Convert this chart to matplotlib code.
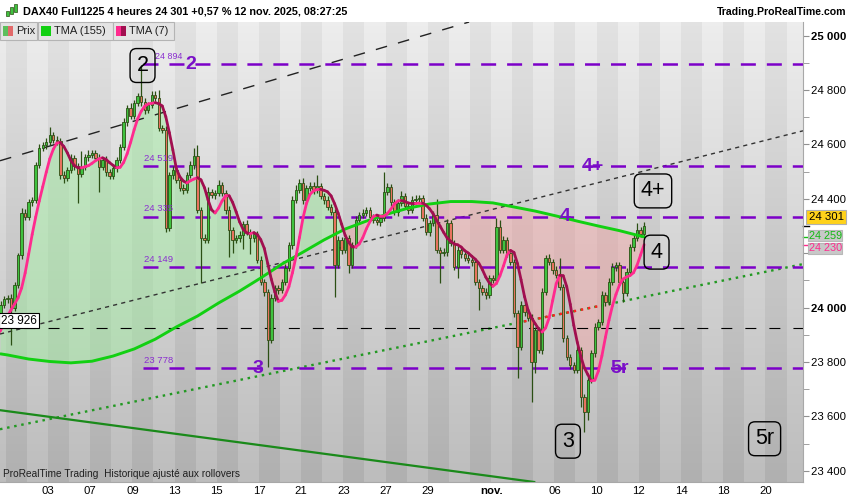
import numpy as np
import pandas as pd
import matplotlib
matplotlib.use("Agg")
import matplotlib.pyplot as plt
from matplotlib.collections import LineCollection
from matplotlib.patches import Rectangle

plt.rcParams['font.family'] = ['Liberation Sans', 'DejaVu Sans']
plt.rcParams['lines.scale_dashes'] = False

# 4h candles, 6 per trading day, x axis in trading days (day 0 = Fri 3 oct. 2025)
bars_per_day = 6
first_day = -2      # 1 oct.
n_pre = 7           # candles before the window, only feed the TMA(7)

pre_closes = [23870, 23905, 23890, 23930, 23975, 24010, 24030]
pre_wick_up = [12, 10, 14, 12, 10, 14, 12]
pre_wick_dn = [10, 12, 14, 10, 12, 14, 10]
first_open = 23860

closes = [
    24035, 23999, 24083, 24193, 24348, 24333, 24388, 24396, 24525, 24587, 24598, 24609, 24635, 24616, 24613, 24488, 24477, 24506, 24550, 24521,
    24491, 24517, 24554, 24561, 24569, 24550, 24517, 24543, 24499, 24484, 24513, 24543, 24591, 24683, 24734, 24705, 24752, 24778, 24756, 24727,
    24745, 24782, 24771, 24660, 24653, 24293, 24488, 24506, 24469, 24440, 24432, 24488, 24525, 24558, 24359, 24256, 24250, 24425, 24414, 24421,
    24451, 24421, 24359, 24285, 24249, 24256, 24267, 24307, 24278, 24256, 24271, 24175, 24094, 24057, 23881, 24035, 24072, 24065, 24094, 24146,
    24230, 24396, 24432, 24458, 24396, 24440, 24447, 24432, 24447, 24410, 24396, 24370, 24352, 24157, 24249, 24212, 24256, 24157, 24230, 24322,
    24341, 24348, 24359, 24333, 24322, 24315, 24330, 24425, 24443, 24388, 24352, 24385, 24410, 24374, 24359, 24396, 24399, 24403, 24330, 24278,
    24311, 24341, 24212, 24201, 24204, 24311, 24238, 24149, 24212, 24197, 24182, 24175, 24168, 24094, 24072, 24057, 24046, 24109, 24102, 24296,
    24212, 24249, 24201, 24168, 23980, 23855, 24010, 23984, 23962, 23800, 23918, 23844, 24057, 24182, 24168, 24138, 24120, 24076, 23888, 23818,
    23789, 23770, 23844, 23671, 23616, 23734, 23833, 23929, 23947, 24046, 24021, 24094, 24149, 24157, 24094, 24054, 24131, 24223, 24256, 24285,
    24271, 24301,
]
wick_up = [
    10, 14, 12, 8, 18, 15, 10, 12, 9, 14, 12, 16, 29, 10, 14, 12, 15, 10, 14, 12,
    10, 60, 12, 18, 10, 12, 15, 10, 14, 12, 9, 12, 10, 14, 12, 18, 10, 12, 114, 15,
    12, 14, 16, 29, 12, 15, 10, 14, 12, 10, 16, 12, 14, 30, 40, 10, 14, 20, 12, 10,
    18, 12, 10, 14, 12, 10, 16, 12, 14, 10, 12, 10, 14, 12, 10, 14, 12, 10, 12, 14,
    12, 16, 18, 14, 20, 12, 16, 14, 40, 12, 10, 14, 12, 10, 16, 12, 14, 10, 12, 16,
    12, 14, 10, 12, 10, 14, 12, 74, 14, 12, 10, 14, 20, 12, 10, 14, 16, 12, 10, 14,
    12, 16, 58, 10, 14, 16, 12, 10, 14, 12, 10, 14, 12, 10, 12, 10, 14, 12, 10, 34,
    26, 14, 12, 16, 10, 12, 14, 12, 10, 14, 12, 10, 16, 11, 14, 12, 16, 62, 10, 12,
    10, 12, 14, 10, 12, 14, 12, 16, 10, 14, 12, 16, 14, 10, 12, 10, 14, 12, 16, 26,
    12, 14,
]
wick_dn = [
    14, 137, 10, 12, 14, 12, 10, 14, 12, 10, 12, 14, 10, 12, 14, 15, 20, 12, 10, 14,
    106, 12, 10, 14, 12, 10, 92, 12, 14, 10, 12, 14, 10, 12, 14, 12, 10, 12, 14, 16,
    12, 10, 14, 12, 10, 15, 12, 14, 10, 12, 14, 10, 12, 14, 12, 166, 14, 12, 10, 14,
    12, 10, 14, 100, 48, 12, 14, 50, 12, 60, 14, 12, 10, 14, 99, 12, 10, 14, 12, 10,
    12, 14, 10, 12, 14, 10, 12, 14, 12, 10, 14, 12, 10, 118, 12, 14, 10, 30, 12, 10,
    14, 12, 10, 14, 12, 10, 14, 12, 10, 16, 12, 14, 10, 12, 14, 10, 12, 14, 12, 10,
    14, 12, 10, 111, 12, 14, 10, 12, 40, 14, 12, 10, 14, 12, 80, 10, 14, 12, 10, 14,
    12, 10, 14, 12, 16, 114, 12, 14, 10, 147, 40, 12, 14, 10, 12, 14, 10, 12, 14, 12,
    14, 12, 10, 37, 74, 30, 12, 14, 10, 12, 14, 10, 12, 14, 12, 33, 10, 12, 14, 10,
    12, 10,
]

# TMA(155), one value per day (candle slot index)
tma155_slot = [-2, 0, 6, 12, 18, 24, 30, 36, 42, 48, 54, 60, 66, 72, 78, 84, 90, 96,
               102, 108, 114, 120, 126, 132, 138, 144, 150, 156, 162, 168, 174, 180, 181]
tma155_val = [23830, 23826, 23811, 23802, 23797, 23803, 23822, 23848, 23884, 23929, 23969,
              24017, 24061, 24109, 24160, 24204, 24249, 24289, 24318, 24344, 24366, 24381,
              24390, 24390, 24385, 24370, 24355, 24337, 24318, 24300, 24283, 24263, 24260]

levels = [24894, 24519, 24335, 24149, 23778]
level_labels = ["24 894", "24 519", "24 335", "24 149", "23 778"]
level_label_x = [5.05, 4.55, 4.55, 4.55, 4.55]
level_label_size = [6.4, 6.8, 6.8, 6.8, 6.8]
level_start = 4.5

wave_text = ["2", "4+", "4", "3", "5r"]
wave_x = [6.75, 25.83, 24.5, 9.95, 27.1]
wave_y = [24894, 24519, 24335, 23778, 23778]

box_text = ["2", "4+", "4", "3", "5r"]
box_x = [4.48, 28.67, 28.84, 24.64, 33.96]
box_y = [24890, 24429, 24204, 23509, 23518]

support = 23926

upper_dash = [(-2.275, 24540), (20.0, 25051)]
mid_dot = [(-2.275, 23903), (35.78, 24650)]
green_dot = [(-2.275, 23553), (35.78, 24160)]
green_dot_red = [22.23, 26.07]
green_solid = [(-2.275, 23623), (22.37, 23366)]

xtick_days = [0, 2, 4, 6, 8, 10, 12, 14, 16, 18, 21, 24, 26, 28, 30, 32, 34]
xtick_labels = ["03", "07", "09", "13", "15", "17", "21", "23", "27", "29", "nov.",
                "06", "10", "12", "14", "18", "20"]
yticks = [23400, 23600, 23800, 24000, 24200, 24400, 24600, 24800, 25000]
hidden_ytick = 24200   # covered by the last-value boxes

xlo, xhi = -2.275, 35.78
ylo, yhi = 23359, 25050

# ---------------------------------------------------------------
c = np.array(pre_closes + closes, dtype=float)
o = np.concatenate([[first_open], c[:-1]])
wu = np.array(pre_wick_up + wick_up, dtype=float)
wd = np.array(pre_wick_dn + wick_dn, dtype=float)
hi = np.maximum(o, c) + wu
lo = np.minimum(o, c) - wd
slots = np.arange(len(c)) - n_pre
x = first_day + (slots + 0.5) / bars_per_day

s = pd.Series(c)
tma7 = s.rolling(4, min_periods=1).mean().rolling(4, min_periods=1).mean().values
x155 = first_day + (np.array(tma155_slot) + 0.5) / bars_per_day
v155 = np.array(tma155_val, dtype=float)

fig = plt.figure(figsize=(8.5, 5), dpi=100)
fig.patch.set_facecolor('white')
ax = fig.add_axes([0, 18 / 500, 803 / 850, 460 / 500])

# striped grey background, one stripe per trading day
nrow = 120
t = np.linspace(0, 1, nrow)[:, None]
day_cols = np.arange(-3, 37)
dark = (day_cols % 2 == 0)[None, :]
img = np.where(dark, 226 - 50 * t, 237 - 48 * t) / 255
img = np.repeat(img[:, :, None], 3, axis=2)
ax.imshow(img, extent=(-3, 37, ylo, yhi), aspect='auto', interpolation='nearest',
          origin='upper', zorder=0)

# fill between TMA(7) and TMA(155)
m = slots >= tma155_slot[0]
xf = x[m]
pf = tma7[m]
gf = np.interp(xf, x155, v155)
ax.fill_between(xf, pf, gf, where=pf >= gf, interpolate=True,
                color='#a2eca2', alpha=0.5, lw=0, zorder=1)
ax.fill_between(xf, pf, gf, where=pf < gf, interpolate=True,
                color='#f4a3a3', alpha=0.45, lw=0, zorder=1)

# trend lines
ax.axline(upper_dash[0], upper_dash[1], color='#222222', lw=1.0, dashes=(8.4, 8.2), zorder=2)
ax.axline(mid_dot[0], mid_dot[1], color='#333333', lw=1.0, dashes=(3, 3), zorder=2)
ax.axline(green_dot[0], green_dot[1], color='#229922', lw=1.7, dashes=(1.8, 3.4), zorder=2)
gx = np.array(green_dot_red)
gy = np.interp(gx, [green_dot[0][0], green_dot[1][0]], [green_dot[0][1], green_dot[1][1]])
ax.plot(gx, gy, color='#ff2020', lw=1.7, dashes=(1.8, 3.4), zorder=2)
ax.axline(green_solid[0], green_solid[1], color='#1a8a1a', lw=1.6, zorder=2)
ax.axhline(support, color='black', lw=0.8, dashes=(7.9, 9.4), zorder=2)

# horizontal levels
for lv, lab, lx, ls in zip(levels, level_labels, level_label_x, level_label_size):
    ax.plot([level_start, xhi], [lv, lv], color='#7c00c8', lw=1.8, dashes=(10.8, 7.9), zorder=2)
    ax.text(lx, lv + 12, lab, color='#8a2ed0', fontsize=ls,
            va='bottom', ha='left', zorder=6)

# candles
up = c >= o
edge = '#2b4f14'
ax.vlines(x, lo, hi, color=edge, lw=0.9, zorder=3)
ax.bar(x[up], (c - o)[up], bottom=o[up], width=0.115, color='#3fc23f',
       edgecolor=edge, linewidth=0.6, zorder=4)
ax.bar(x[~up], (o - c)[~up], bottom=c[~up], width=0.115, color='#e8735f',
       edgecolor=edge, linewidth=0.6, zorder=4)

# TMA(155)
ax.plot(x155, v155, color='#12d012', lw=2.1, zorder=5, solid_capstyle='round')

# TMA(7): pink when rising, dark when falling
pts = np.column_stack([x, tma7])
segs = np.stack([pts[:-1], pts[1:]], axis=1)
cols = np.where(np.diff(tma7) >= 0, '#ff2a8e', '#a10f50')
ax.add_collection(LineCollection(segs, colors=cols, linewidths=2.0, zorder=5,
                                 capstyle='round'))

# wave labels
for txt, wx, wy in zip(wave_text, wave_x, wave_y):
    ax.text(wx, wy, txt, color='#7a10c8', fontsize=14, fontweight='bold',
            ha='center', va='center', zorder=6)
for txt, bx, by in zip(box_text, box_x, box_y):
    ax.text(bx, by, txt, color='black', fontsize=15.5, ha='center', va='center', zorder=6,
            bbox=dict(boxstyle='round,pad=0.3,rounding_size=0.3', fc='none',
                      ec='black', lw=1.0))

ax.text(xlo + 0.06, support + 4, "23 926", fontsize=8.5, color='black', va='bottom',
        ha='left', zorder=7,
        bbox=dict(boxstyle='square,pad=0.15', fc='white', ec='black', lw=0.8))

ax.set_xlim(xlo, xhi)
ax.set_ylim(ylo, yhi)

# axes styling
for sp in ['top', 'left']:
    ax.spines[sp].set_visible(False)
ax.spines['right'].set_color('#a8a8a8')
ax.spines['bottom'].set_color('#a8a8a8')
ax.yaxis.tick_right()
ax.set_yticks(yticks, ["" if v == hidden_ytick else f"{v:,}".replace(",", " ")
                       for v in yticks])
ax.set_yticks(np.arange(23500, 25001, 200), minor=True)
ax.tick_params(axis='y', which='both', direction='out', length=4, color='#909090',
               labelsize=8.2, pad=2)
for lbl in ax.get_yticklabels():
    if lbl.get_text() in ("25 000", "24 000"):
        lbl.set_fontweight('bold')
ax.set_xticks(xtick_days, xtick_labels)
ax.tick_params(axis='x', length=0, labelsize=8.2, pad=3)
for lbl in ax.get_xticklabels():
    if lbl.get_text() == "nov.":
        lbl.set_fontweight('bold')

# last values on the price axis
tr = ax.get_yaxis_transform()
last_vals = [24301, 24259, 24230]
ax.plot([1.0, 1.007], [last_vals[0]] * 2, transform=tr, clip_on=False, color='black', lw=1)
ax.plot([1.0, 1.007], [last_vals[1]] * 2, transform=tr, clip_on=False, color='#10c010', lw=1)
ax.plot([1.0, 1.007], [last_vals[2]] * 2, transform=tr, clip_on=False, color='#ff2a8e', lw=1)
ax.text(1.007, 24333, "24 301", transform=tr, fontsize=8.2, color='black', va='center',
        ha='left', clip_on=False,
        bbox=dict(boxstyle='square,pad=0.2', fc='#ffd21a', ec='#b0b0b0', lw=0.8))
ax.text(1.007, 24264, "24 259", transform=tr, fontsize=7.8, color='#12b812', va='center',
        ha='left', clip_on=False,
        bbox=dict(boxstyle='square,pad=0.05', fc='#c8c8c8', ec='#b8b8b8', lw=0.8))
ax.text(1.007, 24218, "24 230", transform=tr, fontsize=7.8, color='#ff2a8e', va='center',
        ha='left', clip_on=False,
        bbox=dict(boxstyle='square,pad=0.05', fc='#c8c8c8', ec='#b8b8b8', lw=0.8))

# header
W, H = 850, 500
def fx(px):
    return px / W
def fy(py):
    return 1 - py / H

fig.text(fx(23), fy(12), "DAX40 Full1225 4 heures 24 301 +0,57 % 12 nov. 2025, 08:27:25",
         fontsize=7.8, fontweight='bold', va='center', ha='left')
fig.text(fx(846), fy(12), "Trading.ProRealTime.com", fontsize=7.6, fontweight='bold',
         va='center', ha='right')
icon = [(6, 11, 16, '#3fc23f'), (10, 7, 14, '#3fc23f'), (14, 4, 12, '#3fc23f')]
for ix, itop, ibot, icol in icon:
    fig.add_artist(Rectangle((fx(ix), fy(ibot)), 2.5 / W, (ibot - itop) / H,
                             transform=fig.transFigure, fc=icol, ec=edge, lw=0.5))

# legend strip
legend_boxes = [(0, 37, "Prix", ['#5cbf5c', '#e26a6a']),
                (37.5, 112.5, "TMA (155)", ['#12d012', '#12d012']),
                (113, 174, "TMA (7)", ['#ff2a8e', '#a10f50'])]
for bx0, bx1, txt, sw in legend_boxes:
    fig.add_artist(Rectangle((fx(bx0), fy(40)), (bx1 - bx0) / W, 18 / H,
                             transform=fig.transFigure, fc='#e4e4e4', ec='#b4b4b4', lw=0.8))
    fig.add_artist(Rectangle((fx(bx0 + 3), fy(36)), 5 / W, 10 / H,
                             transform=fig.transFigure, fc=sw[0], ec='none'))
    fig.add_artist(Rectangle((fx(bx0 + 8), fy(36)), 5 / W, 10 / H,
                             transform=fig.transFigure, fc=sw[1], ec='none'))
    fig.text(fx(bx0 + 16), fy(31), txt, fontsize=8, va='center', ha='left', color='#202020')

fig.text(fx(3), fy(474), "ProRealTime Trading  Historique ajusté aux rollovers",
         fontsize=7.3, va='center', ha='left', color='#202020')

fig.savefig("out.png", dpi=100)
